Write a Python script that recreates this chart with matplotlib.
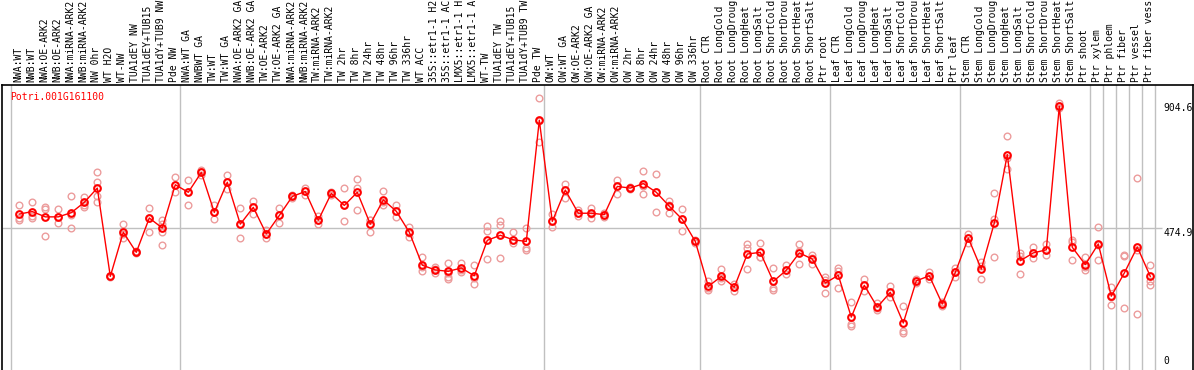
import matplotlib
matplotlib.use("Agg")
import matplotlib.pyplot as plt

gene = "Potri.001G161100"

labels = [
    # NW
    "NWA:WT", "NWB:WT", "NWA:OE-ARK2", "NWB:OE-ARK2", "NWA:miRNA-ARK2", "NWB:miRNA-ARK2",
    "NW 0hr", "WT H2O", "WT-NW", "TUA1dEY NW", "TUA1dEY+TUB15 NW", "TUA1dY+TUB9 NW", "Pde NW",
    # TW
    "NWA:WT GA", "NWBWT GA", "TW:WT", "TW:WT GA", "NWA:OE-ARK2 GA", "NWB:OE-ARK2 GA",
    "TW:OE-ARK2", "TW:OE-ARK2 GA", "NWA:miRNA-ARK2 GA", "NWB:miRNA-ARK2 GA", "TW:miRNA-ARK2",
    "TW:miRNA-ARK2 GA", "TW 2hr", "TW 8hr", "TW 24hr", "TW 48hr", "TW 96hr", "TW 336hr",
    "WT ACC", "35S::etr1-1 H2O", "35S::etr1-1 ACC", "LMX5::etr1-1 H2O", "LMX5::etr1-1 ACC",
    "WT-TW", "TUA1dEY TW", "TUA1dEY+TUB15 TW", "TUA1dY+TUB9 TW", "Pde TW",
    # OW
    "OW:WT", "OW:WT GA", "OW:OE-ARK2", "OW:OE-ARK2 GA", "OW:miRNA-ARK2", "OW:miRNA-ARK2 GA",
    "OW 2hr", "OW 8hr", "OW 24hr", "OW 48hr", "OW 96hr", "OW 336hr",
    # root
    "Root CTR", "Root LongCold", "Root LongDrought", "Root LongHeat", "Root LongSalt",
    "Root ShortCold", "Root ShortDrought", "Root ShortHeat", "Root ShortSalt", "Ptr root",
    # leaf
    "Leaf CTR", "Leaf LongCold", "Leaf LongDrought", "Leaf LongHeat", "Leaf LongSalt",
    "Leaf ShortCold", "Leaf ShortDrought", "Leaf ShortHeat", "Leaf ShortSalt", "Ptr leaf",
    # stem
    "Stem CTR", "Stem LongCold", "Stem LongDrought", "Stem LongHeat", "Stem LongSalt",
    "Stem ShortCold", "Stem ShortDrought", "Stem ShortHeat", "Stem ShortSalt", "Ptr shoot",
    # tissues
    "Ptr xylem", "Ptr phloem", "Ptr fiber", "Ptr vessel", "Ptr fiber vessel",
]

# group sizes (gray separators between them)
groups = [13, 28, 12, 10, 10, 10, 1, 1, 1, 1, 1]

means = [
    526, 535, 516, 516, 531, 568, 619, 303, 461, 389, 512, 476, 631,
    604, 675, 532, 640, 490, 550, 455, 521, 589, 607, 504, 600, 557, 604, 490, 577,
    536, 461, 343, 326, 321, 333, 305, 432, 450, 434, 428, 862,
    500, 612, 529, 529, 524, 625, 619, 635, 604, 554, 507, 428,
    267, 303, 264, 383, 389, 285, 325, 387, 365, 279,
    307, 157, 271, 193, 246, 136, 287, 305, 204, 317,
    440, 329, 494, 739, 359, 387, 398, 912, 407, 345,
    419, 232, 315, 408, 303,
]

reps = [
    [558, 511, 506], [568, 520, 512], [550, 545, 447], [543, 516, 494], [589, 523, 475],
    [587, 557, 550], [675, 642, 568, 590], [300, 303, 306], [490, 453, 439], [393, 385, 389],
    [549, 512, 462], [503, 491, 461, 414], [657, 631, 604],
    [649, 604, 560], [684, 675, 667], [560, 532, 508], [666, 640, 616], [549, 490, 440],
    [572, 550, 526], [470, 455, 440], [547, 521, 494], [595, 589, 584], [619, 607, 595],
    [520, 503, 490], [605, 600, 595], [618, 557, 502], [651, 621, 541], [503, 505, 462],
    [607, 568, 557], [557, 536, 514], [479, 459, 445], [372, 335, 323], [335, 328, 315],
    [352, 316, 301, 295], [352, 327, 320], [345, 296, 275], [484, 466, 365], [502, 488, 368],
    [462, 434, 423], [476, 405, 396], [942, 860, 783],
    [525, 500, 479], [635, 612, 584], [541, 530, 518], [546, 528, 512], [530, 524, 514],
    [649, 625, 598], [622, 619, 616], [679, 627, 597], [671, 604, 535], [572, 560, 530],
    [544, 510, 467], [432, 428, 424],
    [285, 262, 253], [328, 296, 285], [276, 264, 252], [420, 404, 328], [423, 372, 372],
    [333, 262, 253], [342, 325, 310], [419, 394, 347], [381, 368, 346], [301, 290, 245],
    [333, 323, 262], [210, 132, 124], [292, 271, 252], [208, 190, 181], [267, 244, 228],
    [197, 109, 100], [294, 287, 281], [319, 305, 292], [212, 204, 196], [333, 317, 302],
    [456, 440, 423], [354, 340, 294], [600, 510, 374], [804, 726, 686], [387, 377, 313],
    [407, 386, 369], [420, 398, 378], [923, 912, 906], [432, 425, 363], [373, 336, 327],
    [479, 415, 363], [265, 229, 202], [381, 376, 188], [656, 398, 170], [342, 285, 273],
]

yticks = [904.6, 474.9, 0]

W, H = 1194, 370
fig = plt.figure(figsize=(W / 100, H / 100), dpi=100)
# axes box in pixels: x 1.5..1193, y 85..370 (from top)
ax = fig.add_axes([1.5 / W, 0, (1193 - 1.5) / W, (370 - 85) / H])

font = "DejaVu Sans Mono"
fs = 7.0

# x: point i sits at pixel 19.3 + 13*i
ax.set_xlim((1.5 - 19.3) / 13, (1193 - 19.3) / 13)
ax.set_ylim((361 - 370) * 3.58, (361 - 85) * 3.58)

# group separators
k = 0
ax.axvline(k - 0.66, color="#c0c0c0", lw=1, zorder=0)
for g in groups:
    k += g
    ax.axvline(k - 0.66, color="#c0c0c0", lw=1, zorder=0)

# median line
ax.hlines(yticks[1], (1.5 - 19.3) / 13, (1162 - 19.3) / 13, color="#c0c0c0", lw=1, zorder=0)

# replicates
for i, r in enumerate(reps):
    ax.plot([i] * len(r), r, "o", ms=4.8, mfc="none", mec="#ec9c9c", mew=1.0, zorder=2)

# means
x = list(range(len(means)))
ax.plot(x, means, "-", color="red", lw=1.0, zorder=3)
ax.plot(x, means, "o", ms=4.8, mfc="none", mec="red", mew=1.5, zorder=4)

# sample labels on top (the header only has room for 14 characters)
tr = ax.get_xaxis_transform()
for i, lab in enumerate(labels):
    ax.text(i - 0.1, 1.0105, lab[:14], transform=tr, rotation=90, ha="center", va="bottom",
            fontsize=fs, family=font, color="black")

# gene name
ax.text((10 - 19.3) / 13, 1 - 12 / 285, gene, transform=tr, ha="left", va="center",
        fontsize=fs, family=font, color="red")

# value labels on the right
xl = (1163 - 19.3) / 13
ax.text(xl, yticks[0], "904.6", ha="left", va="center", fontsize=fs, family=font)
ax.text(xl, yticks[1], "474.9", ha="left", va="top", fontsize=fs, family=font)
ax.text(xl, yticks[2], "0", ha="left", va="center", fontsize=fs, family=font)

ax.set_xticks([])
ax.set_yticks([])
for s in ["left", "top", "right"]:
    ax.spines[s].set_color("black")
    ax.spines[s].set_linewidth(1.2)
ax.spines["bottom"].set_visible(False)

fig.savefig("out.png", dpi=100)
